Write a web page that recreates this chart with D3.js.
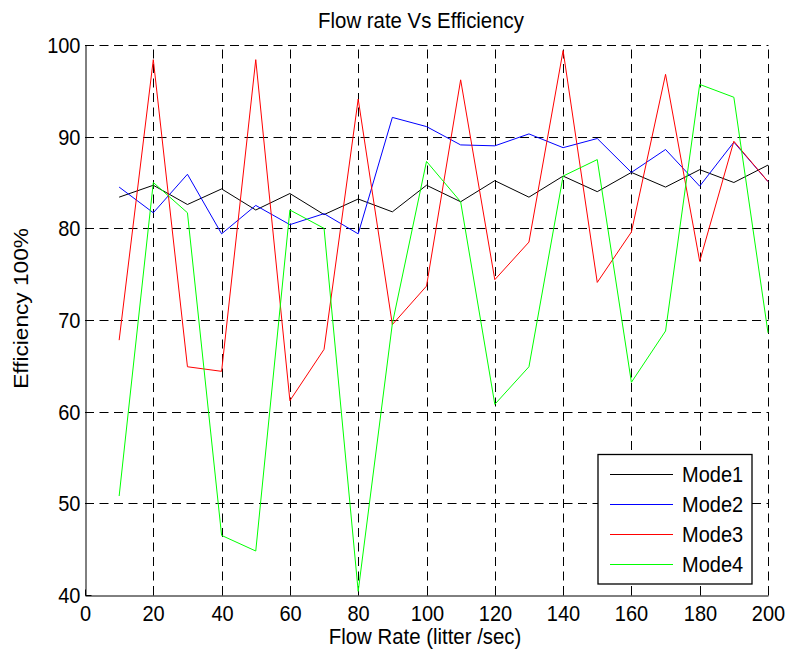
<!DOCTYPE html>
<html><head><meta charset="utf-8">
<script src="https://cdn.jsdelivr.net/npm/d3@7/dist/d3.min.js"></script>
<style>
body{margin:0;background:#fff}
text{font-family:"Liberation Sans",Arial,Helvetica,sans-serif;fill:#000}
</style>
</head><body>
<svg id="chart" width="789" height="652"></svg>
<script>
const flowRate=[10,20,30,40,50,60,70,80,90,100,110,120,130,140,150,160,170,180,190,200];
const mode1=[83.4,84.7,82.6,84.3,82.0,83.8,81.5,83.2,81.8,84.7,82.9,85.2,83.4,85.7,84.0,86.1,84.5,86.4,85.0,86.9];
const mode2=[84.5,81.7,85.9,79.4,82.5,80.4,81.6,79.4,92.1,91.1,89.1,89.0,90.3,88.8,89.8,86.1,88.6,84.6,89.4,85.1];
const mode3=[67.8,98.4,64.9,64.4,98.4,61.2,66.8,94.1,69.5,73.7,96.2,74.4,78.5,99.4,74.1,79.6,96.8,76.4,89.5,85.1];
const mode4=[50.8,85.0,81.7,46.5,44.8,82.0,80.0,40.4,69.6,87.3,82.9,60.8,64.9,85.7,87.5,63.2,68.8,95.7,94.3,68.6];
const seriesNames=["Mode1","Mode2","Mode3","Mode4"];
const seriesColors=["#000000","#0000ff","#ff0000","#00ff00"];
const xTicks=[0,20,40,60,80,100,120,140,160,180,200];
const yTicks=[40,50,60,70,80,90,100];
const titleText="Flow rate Vs Efficiency";
const xLabel="Flow Rate (litter /sec)";
const yLabel="Efficiency 100%";

const series=[mode1,mode2,mode3,mode4];
const X0=85,X1=768,Y0=45,Y1=595;
const svg=d3.select("#chart");
svg.append("rect").attr("width",789).attr("height",652).attr("fill","#fff");

const x=d3.scaleLinear().domain([0,200]).range([X0,X1]);
const y=d3.scaleLinear().domain([40,100]).range([Y1,Y0]);
const cx=v=>Math.round(x(v))+0.5;
const cy=v=>Math.round(y(v))+0.5;

// grid
const grid=svg.append("g").attr("stroke","#000").attr("stroke-width",1).attr("stroke-dasharray","9,5.5").attr("fill","none");
xTicks.filter(t=>t!==0).forEach(t=>{
  grid.append("line").attr("x1",cx(t)).attr("x2",cx(t)).attr("y1",Y1).attr("y2",Y0);
});
yTicks.filter(t=>t!==40).forEach(t=>{
  grid.append("line").attr("x1",X0).attr("x2",X1+0.5).attr("y1",cy(t)).attr("y2",cy(t));
});

// axes
const fs=20;
const xAxis=svg.append("g").attr("transform",`translate(0,${Y1+0.5})`)
  .call(d3.axisBottom(x).tickValues(xTicks).tickSize(-6).tickSizeOuter(0).tickFormat(d3.format("d")));
const yAxis=svg.append("g").attr("transform",`translate(${X0+0.5},0)`)
  .call(d3.axisLeft(y).tickValues(yTicks).tickSize(-6).tickSizeOuter(0).tickPadding(5).tickFormat(d3.format("d")));
[xAxis,yAxis].forEach(a=>{
  a.select(".domain").attr("stroke","#000").attr("stroke-width",1);
  a.selectAll(".tick line").attr("stroke","#000");
  a.selectAll("text").attr("font-size",fs).attr("fill","#000").style("font-family",'"Liberation Sans",Arial,sans-serif');
});
xAxis.selectAll(".tick text").attr("y",25.2/1.1).attr("dy",0).attr("transform","scale(1,1.1)");
yAxis.selectAll(".tick text").attr("dy","0.36em").attr("transform","scale(1,1.1)");
xAxis.selectAll(".tick").attr("transform",d=>`translate(${Math.round(x(d))+0.5},0)`);
yAxis.selectAll(".tick").attr("transform",d=>`translate(0,${Math.round(y(d))+0.5})`);

// lines
const line=d3.line().x((d,i)=>x(flowRate[i])).y(d=>y(d));
series.forEach((s,k)=>{
  svg.append("path").datum(s).attr("d",line).attr("fill","none")
    .attr("stroke",seriesColors[k]).attr("stroke-width",1);
});

// titles
svg.append("text").attr("transform","translate(421,28) scale(1,1.1)").attr("text-anchor","middle")
  .attr("font-size",20.4).text(titleText);
svg.append("text").attr("transform","translate(425,644) scale(1,1.1)").attr("text-anchor","middle")
  .attr("font-size",20.4).text(xLabel);
svg.append("text").attr("transform","translate(28,308.5) rotate(-90) scale(1.1,1)").attr("text-anchor","middle")
  .attr("font-size",20.6).text(yLabel);

// legend
const lg=svg.append("g");
lg.append("rect").attr("x",598).attr("y",454.5).attr("width",154).attr("height",129.5)
  .attr("fill","#fff").attr("stroke","#000").attr("stroke-width",1.3);
seriesNames.forEach((n,i)=>{
  const yy=473.5+i*30.3;
  lg.append("line").attr("x1",610).attr("x2",673).attr("y1",Math.round(yy)+0.5).attr("y2",Math.round(yy)+0.5)
    .attr("stroke",seriesColors[i]).attr("stroke-width",1);
  lg.append("text").attr("transform",`translate(682,${yy+8}) scale(1,1.1)`).attr("font-size",fs).text(n);
});
</script>
</body></html>
